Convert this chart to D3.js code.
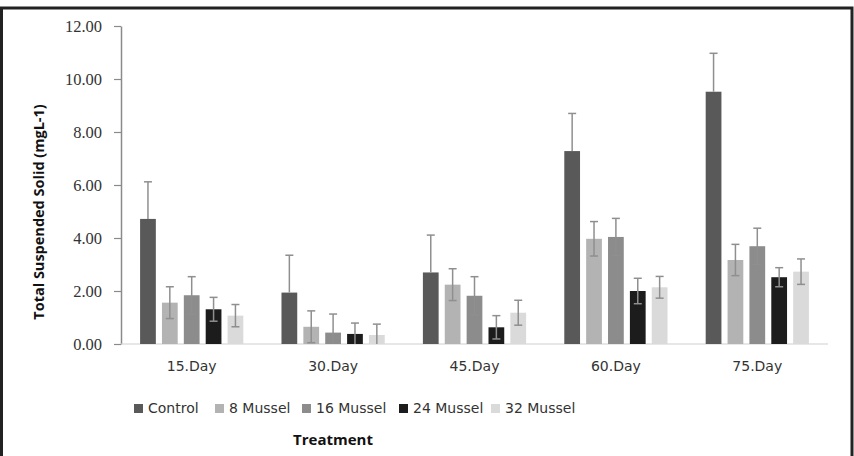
<!DOCTYPE html>
<html>
<head>
<meta charset="utf-8">
<script src="https://cdn.jsdelivr.net/npm/d3@7"></script>
<style>
  body { margin: 0; background: #fff; }
  svg { display: block; }
</style>
</head>
<body>
<div class="chart"></div>
<script>
// chart data
const days = ["15.Day", "30.Day", "45.Day", "60.Day", "75.Day"];
const treatments = ["Control", "8 Mussel", "16 Mussel", "24 Mussel", "32 Mussel"];
const treatmentColors = ["#595959", "#b3b3b3", "#8c8c8c", "#1c1c1c", "#dadada"];

// mean TSS per treatment, one value per day
const controlMeans = [4.72, 1.94, 2.70, 7.28, 9.52];
const mussel8Means = [1.56, 0.65, 2.24, 3.97, 3.17];
const mussel16Means = [1.84, 0.43, 1.82, 4.04, 3.69];
const mussel24Means = [1.31, 0.38, 0.63, 2.00, 2.52];
const mussel32Means = [1.07, 0.34, 1.18, 2.14, 2.73];

// error (+/-) per treatment
const controlErr = [1.40, 1.41, 1.41, 1.42, 1.45];
const mussel8Err = [0.60, 0.60, 0.60, 0.65, 0.59];
const mussel16Err = [0.70, 0.70, 0.72, 0.70, 0.68];
const mussel24Err = [0.45, 0.41, 0.44, 0.48, 0.36];
const mussel32Err = [0.42, 0.41, 0.47, 0.41, 0.48];

const yTicks = [0, 2, 4, 6, 8, 10, 12];

const meansBySeries = [controlMeans, mussel8Means, mussel16Means, mussel24Means, mussel32Means];
const errBySeries = [controlErr, mussel8Err, mussel16Err, mussel24Err, mussel32Err];

const width = 854;
const height = 456;
const plot = { left: 121, right: 828, top: 26, bottom: 344 };

const svg = d3.select(".chart")
    .append("svg")
    .attr("width", width)
    .attr("height", height);

// outer frame (left, top, right edges like the cropped screenshot)
svg.append("path")
    .attr("d", `M1.5,${height} L1.5,8 L852,8 L852,${height}`)
    .attr("fill", "none")
    .attr("stroke", "#222")
    .attr("stroke-width", 3);

const x0 = d3.scaleBand()
    .domain(days)
    .range([plot.left, plot.right])
    .paddingInner(0.27)
    .paddingOuter(0.135);

const x1 = d3.scaleBand()
    .domain(treatments)
    .range([0, x0.bandwidth()])
    .paddingInner(0.28);

const y = d3.scaleLinear()
    .domain([0, 12])
    .range([plot.bottom, plot.top]);

const color = d3.scaleOrdinal().domain(treatments).range(treatmentColors);

// y axis
const yAxis = svg.append("g")
    .attr("transform", `translate(${plot.left},0)`)
    .call(d3.axisLeft(y).tickValues(yTicks).tickSize(7).tickSizeOuter(0).tickPadding(12)
        .tickFormat(d => d3.format(".2f")(d)));
yAxis.select(".domain").attr("stroke", "#8a8a8a").attr("stroke-width", 1.5);
yAxis.selectAll(".tick line").attr("stroke", "#8a8a8a").attr("stroke-width", 1.2);
yAxis.selectAll(".tick text")
    .style("font-family", "'Liberation Serif', 'DejaVu Serif', serif")
    .style("font-size", "16.5px")
    .attr("fill", "#333");

// x baseline
svg.append("line")
    .attr("x1", plot.left).attr("x2", plot.right)
    .attr("y1", y(0)).attr("y2", y(0))
    .attr("stroke", "#d0d0d0")
    .attr("stroke-width", 1.2);

// flatten data
const rows = [];
days.forEach((day, i) => {
    treatments.forEach((t, j) => {
        rows.push({ day: day, treatment: t, value: meansBySeries[j][i], err: errBySeries[j][i] });
    });
});

// bars
svg.selectAll(".bar")
    .data(rows)
    .enter()
    .append("rect")
    .attr("class", "bar")
    .attr("x", d => x0(d.day) + x1(d.treatment))
    .attr("y", d => y(d.value))
    .attr("width", x1.bandwidth())
    .attr("height", d => y(0) - y(d.value))
    .attr("fill", d => color(d.treatment));

// error bars (control lower half disappears into the dark bar in the original)
const capHalf = 4;
const cx = d => x0(d.day) + x1(d.treatment) + x1.bandwidth() / 2;
const lowVisible = d => d.treatment !== "Control" && d.value - d.err > 0;

const errG = svg.selectAll(".err")
    .data(rows)
    .enter()
    .append("g")
    .attr("class", "err")
    .attr("stroke", "#8f8f8f")
    .attr("stroke-width", 1.5);

errG.append("line")
    .attr("x1", cx)
    .attr("x2", cx)
    .attr("y1", d => lowVisible(d) ? y(d.value - d.err) : (d.treatment === "Control" ? y(d.value) : y(0)))
    .attr("y2", d => y(d.value + d.err));

errG.append("line")
    .attr("x1", d => cx(d) - capHalf)
    .attr("x2", d => cx(d) + capHalf)
    .attr("y1", d => y(d.value + d.err))
    .attr("y2", d => y(d.value + d.err));

errG.filter(lowVisible)
    .append("line")
    .attr("x1", d => cx(d) - capHalf)
    .attr("x2", d => cx(d) + capHalf)
    .attr("y1", d => y(d.value - d.err))
    .attr("y2", d => y(d.value - d.err));

// category labels
svg.selectAll(".cat-label")
    .data(days)
    .enter()
    .append("text")
    .attr("class", "cat-label")
    .attr("x", d => x0(d) + x0.bandwidth() / 2)
    .attr("y", 371)
    .attr("text-anchor", "middle")
    .style("font-family", "'DejaVu Sans', Verdana, sans-serif")
    .style("font-size", "14px")
    .attr("fill", "#333")
    .text(d => d);

// y axis title
svg.append("text")
    .attr("transform", "translate(44,212) rotate(-90)")
    .attr("text-anchor", "middle")
    .style("font-family", "'Open Sans', sans-serif")
    .style("font-weight", "bold")
    .style("font-size", "14.5px")
    .attr("fill", "#111")
    .text("Total Suspended Solid (mgL-1)");

// legend
const legendX = [134, 215, 302, 399, 491];
const legend = svg.selectAll(".legend")
    .data(treatments)
    .enter()
    .append("g")
    .attr("class", "legend")
    .attr("transform", (d, i) => `translate(${legendX[i]},409)`);

legend.append("rect")
    .attr("x", 0).attr("y", -5)
    .attr("width", 9).attr("height", 9)
    .attr("fill", d => color(d));

legend.append("text")
    .attr("x", 14)
    .attr("y", 0)
    .attr("dominant-baseline", "middle")
    .style("font-family", "'DejaVu Sans', sans-serif")
    .style("font-size", "14px")
    .attr("fill", "#333")
    .text(d => d);

// x axis title
svg.append("text")
    .attr("x", 333)
    .attr("y", 445)
    .attr("text-anchor", "middle")
    .style("font-family", "'Open Sans', sans-serif")
    .style("font-weight", "bold")
    .style("font-size", "15px")
    .attr("fill", "#111")
    .text("Treatment");
</script>
</body>
</html>
